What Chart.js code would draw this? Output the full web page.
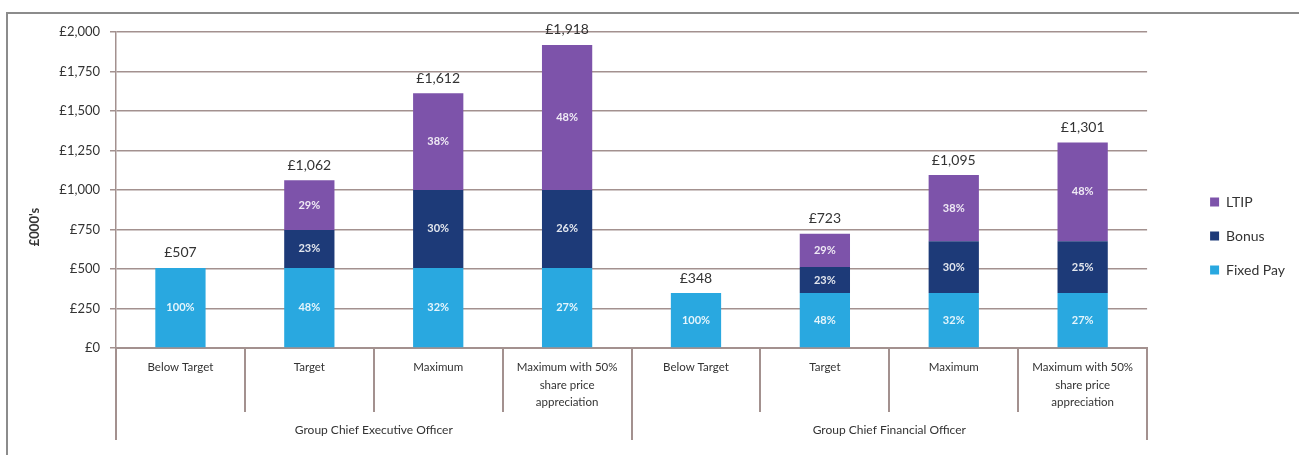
<!DOCTYPE html>
<html>
<head>
<meta charset="utf-8">
<script src="https://cdn.jsdelivr.net/npm/chart.js@4.4.1/dist/chart.umd.min.js"></script>
<style>
  html, body { margin: 0; padding: 0; background: #ffffff; }
  #wrap { position: relative; width: 1299px; height: 455px; }
</style>
</head>
<body>
<div id="wrap"><canvas id="c" width="1299" height="455"></canvas></div>
<script>
// ---- data ----
const categories = [
  ['Below Target'], ['Target'], ['Maximum'], ['Maximum with 50%', 'share price', 'appreciation'],
  ['Below Target'], ['Target'], ['Maximum'], ['Maximum with 50%', 'share price', 'appreciation']
];
const groups = ['Group Chief Executive Officer', 'Group Chief Financial Officer'];
const fixedPay = [507, 507, 507, 507, 348, 348, 348, 348];
const bonus    = [0, 240, 493, 493, 0, 165, 327, 327];
const ltip     = [0, 315, 612, 918, 0, 210, 420, 626];
const fixedPct = ['100%', '48%', '32%', '27%', '100%', '48%', '32%', '27%'];
const bonusPct = ['', '23%', '30%', '26%', '', '23%', '30%', '25%'];
const ltipPct  = ['', '29%', '38%', '48%', '', '29%', '38%', '48%'];
const yTicks   = [0, 250, 500, 750, 1000, 1250, 1500, 1750, 2000];

const FONT = 'Lato, "Open Sans", sans-serif';
const GRID = '#a3918f';
const TEXT = '#333333';

const pctLabels = [fixedPct, bonusPct, ltipPct];

const labelPlugin = {
  id: 'labels',
  beforeDraw(chart) {
    const ctx = chart.ctx;
    ctx.save();
    ctx.fillStyle = '#ffffff';
    ctx.fillRect(0, 0, chart.width, chart.height);
    ctx.strokeStyle = '#8c8c8c';
    ctx.lineWidth = 2;
    ctx.beginPath();
    ctx.moveTo(7, chart.height);
    ctx.lineTo(7, 13);
    ctx.lineTo(chart.width, 13);
    ctx.stroke();
    // y axis title
    ctx.translate(35, 227);
    ctx.rotate(-Math.PI / 2);
    ctx.fillStyle = TEXT;
    ctx.font = 'bold 13px ' + FONT;
    ctx.textAlign = 'center';
    ctx.textBaseline = 'middle';
    ctx.fillText("£000's", 0, 0);
    ctx.restore();
  },
  afterDatasetsDraw(chart) {
    const ctx = chart.ctx;
    ctx.save();
    ctx.textAlign = 'center';
    ctx.textBaseline = 'middle';
    ctx.font = 'bold 11px ' + FONT;
    ctx.fillStyle = 'rgba(255,255,255,0.88)';
    chart.data.datasets.forEach((ds, di) => {
      const meta = chart.getDatasetMeta(di);
      meta.data.forEach((el, i) => {
        const t = pctLabels[di][i];
        if (!t) return;
        ctx.fillText(t, el.x, (el.y + el.base) / 2);
      });
    });
    const y = chart.scales.y;
    const meta0 = chart.getDatasetMeta(0);
    ctx.font = '14px ' + FONT;
    ctx.fillStyle = TEXT;
    fixedPay.forEach((v, i) => {
      const total = v + bonus[i] + ltip[i];
      ctx.fillText('£' + total.toLocaleString('en-GB'), meta0.data[i].x, y.getPixelForValue(total) - 15);
    });
    ctx.restore();
  }
};

new Chart(document.getElementById('c'), {
  type: 'bar',
  data: {
    labels: categories,
    datasets: [
      { label: 'Fixed Pay', data: fixedPay, backgroundColor: '#29a8e0' },
      { label: 'Bonus', data: bonus, backgroundColor: '#1d3a78' },
      { label: 'LTIP', data: ltip, backgroundColor: '#7d53aa' }
    ]
  },
  options: {
    responsive: false,
    animation: false,
    layout: { padding: { top: 32, left: 56, right: 4, bottom: 15 } },
    datasets: { bar: { categoryPercentage: 1, barPercentage: 0.39 } },
    plugins: {
      legend: {
        position: 'right',
        reverse: true,
        labels: {
          boxWidth: 9, boxHeight: 9, padding: 20,
          color: TEXT, font: { family: FONT, size: 14 }
        }
      },
      tooltip: { enabled: false }
    },
    scales: {
      y: {
        stacked: true,
        min: 0, max: 2000,
        afterBuildTicks(s) { s.ticks = yTicks.map(v => ({ value: v })); },
        afterFit(s) { s.width = 60; },
        ticks: {
          padding: 10, color: TEXT, font: { family: FONT, size: 13 },
          callback: v => '£' + Number(v).toLocaleString('en-GB')
        },
        grid: { color: GRID, lineWidth: 1.5, tickLength: 6 },
        border: { color: GRID, width: 1.5 }
      },
      ySpacer: {
        type: 'linear',
        position: 'right',
        display: true,
        afterFit(s) { s.width = 43; },
        ticks: { display: false },
        grid: { display: false, drawTicks: false },
        border: { display: false }
      },
      x: {
        stacked: true,
        weight: 0,
        afterFit(s) { s.height = 64; },
        grid: { offset: true, drawOnChartArea: false, color: GRID, lineWidth: 2, tickLength: 64 },
        border: { color: GRID, width: 2 },
        ticks: {
          autoSkip: false, maxRotation: 0, padding: -53,
          color: TEXT, font: { family: FONT, size: 11.5, lineHeight: 1.5 }
        }
      },
      x2: {
        type: 'category',
        position: 'bottom',
        labels: groups,
        offset: true,
        weight: 1,
        afterFit(s) { s.height = 28; },
        grid: { offset: true, drawOnChartArea: false, color: GRID, lineWidth: 2, tickLength: 28 },
        border: { display: false },
        ticks: {
          autoSkip: false, maxRotation: 0, padding: -17,
          color: TEXT, font: { family: FONT, size: 12 }
        }
      }
    }
  },
  plugins: [labelPlugin]
});
</script>
</body>
</html>
